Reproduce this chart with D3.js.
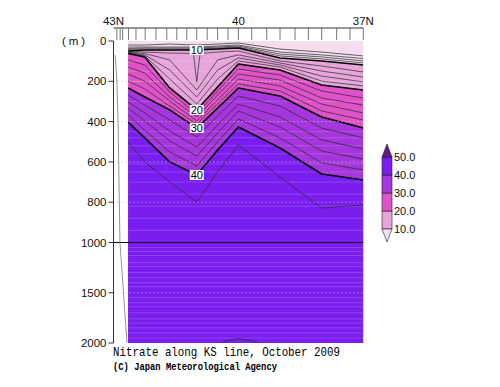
<!DOCTYPE html>
<html>
<head>
<meta charset="utf-8">
<script src="https://cdn.jsdelivr.net/npm/d3@7"></script>
<style>
  html, body { margin: 0; padding: 0; background: #fff; }
  svg { display: block; }
</style>
</head>
<body>
<svg id="chart" width="500" height="387"></svg>
<script>
// Nitrate section along the KS line (Oct 2009), redrawn as isolines.
// Each isoNN array = depth (m) of the NN umol/kg contour at each sectionLat.

const sectionLat = [42.65, 42.25, 41.65, 41.0, 40.5, 40.0, 39.0, 38.0, 37.0];

const iso02 = [20, 20, 15, 20, 15, 10, 40, 55, 74];
const iso04 = [30, 30, 30, 30, 25, 20, 55, 69, 87];
const iso06 = [37, 35, 35, 35, 30, 25, 65, 79, 99];
const iso08 = [42, 40, 40, 40, 35, 30, 74, 89, 109];
const iso10 = [50, 45, 45, 45, 40, 35, 84, 99, 119];
const iso12 = [52, 55, 60, 203, 55, 50, 99, 124, 154];
const iso14 = [55, 62, 94, 243, 94, 69, 109, 149, 179];
const iso16 = [57, 69, 144, 278, 144, 84, 119, 174, 203];
const iso18 = [60, 74, 189, 313, 189, 99, 129, 199, 223];
const iso20 = [62, 79, 233, 342, 228, 114, 144, 218, 243];
const iso22 = [94, 119, 253, 362, 248, 139, 169, 248, 283];
const iso24 = [129, 159, 278, 377, 268, 164, 194, 283, 318];
const iso26 = [164, 199, 298, 397, 293, 189, 223, 313, 357];
const iso28 = [199, 238, 323, 412, 313, 213, 248, 347, 392];
const iso30 = [233, 278, 342, 432, 333, 233, 273, 377, 432];
const iso32 = [268, 318, 392, 476, 372, 273, 323, 432, 481];
const iso34 = [303, 357, 447, 526, 417, 313, 377, 491, 536];
const iso36 = [333, 397, 496, 571, 457, 347, 427, 546, 586];
const iso38 = [367, 442, 551, 620, 501, 387, 481, 605, 640];
const iso40 = [402, 481, 600, 665, 541, 427, 531, 660, 690];
const iso42 = [501, 600, 700, 799, 650, 516, 675, 829, 814];

// narrow dip of the 12 contour at 41N, and the small 44 bump near the bottom
const spike12 = [[41.08, 62], [40.92, 62]];
const bump44 = [[40.6, 2040], [40.3, 1980], [40.0, 1955], [39.6, 1985], [39.3, 2040]];

// bottom topography near the coast
const bottomLine = [[42.96, 70], [42.92, 190], [42.89, 400], [42.845, 1000], [42.675, 2000]];

const contourLevels = [2, 4, 6, 8, 10, 12, 14, 16, 18, 20, 22, 24, 26, 28, 30, 32, 34, 36, 38, 40, 42];
const contourDepths = [iso02, iso04, iso06, iso08, iso10, iso12, iso14, iso16, iso18, iso20,
  iso22, iso24, iso26, iso28, iso30, iso32, iso34, iso36, iso38, iso40, iso42];

const shadeLevels = [10, 20, 30, 40, 50];
const shadeColors = ["#f3ddef", "#e8a5dc", "#e052c9", "#a535dd", "#7a1ef0", "#64198f"];
const colorbarLabels = ["10.0", "20.0", "30.0", "40.0", "50.0"];

const depthTicks = [0, 200, 400, 600, 800, 1000, 1500, 2000];
const gridDepths = [200, 400, 600, 800, 1500];
const latLabels = [[43, "43N"], [40, "40"], [37, "37N"]];
const stationTickLat = [42.92, 42.84, 42.78, 42.64, 42.46, 42.24, 41.98, 41.72, 41.48, 41.24,
  41.0, 40.75, 40.5, 40.25, 40.0, 39.68, 39.32, 39.0, 38.64, 38.32, 38.0, 37.64, 37.32, 37.0];
const stripeDepths = [60, 100, 150, 200, 300, 450, 480, 520, 560, 610, 650, 700, 760, 820, 880, 940,
  1050, 1090, 1130, 1200, 1240, 1300, 1350, 1400, 1440, 1550, 1600, 1640, 1700, 1760, 1800, 1850, 1900, 1950];

// ---- scales ----
const x = d3.scaleLinear().domain([43, 37]).range([113.5, 363.3]);
const y = d3.scaleLinear().domain([0, 1000, 2000]).range([41, 242.5, 343]);
const dataX0 = x(sectionLat[0]);
const dataX1 = x(sectionLat[sectionLat.length - 1]);

const svg = d3.select("#chart");
const FONT = "'Liberation Sans', Arial, Helvetica, sans-serif";

svg.append("defs").append("clipPath").attr("id", "plot-clip")
  .append("rect")
    .attr("x", dataX0).attr("y", y(0))
    .attr("width", dataX1 - dataX0).attr("height", y(2000) - y(0));

const plot = svg.append("g").attr("clip-path", "url(#plot-clip)");

function isoPoints(i) {
  let pts = sectionLat.map((lat, j) => [lat, contourDepths[i][j]]);
  if (contourLevels[i] === 12) pts = pts.concat(spike12);
  return pts.sort((a, b) => b[0] - a[0]);
}

// ---- shading ----
plot.append("rect")
  .attr("x", dataX0).attr("y", y(0))
  .attr("width", dataX1 - dataX0).attr("height", y(2000) - y(0))
  .attr("fill", shadeColors[0]);

const area = d3.area().x(d => x(d[0])).y0(y(2000)).y1(d => y(d[1]));
shadeLevels.slice(0, 4).forEach((lev, k) => {
  const i = contourLevels.indexOf(lev);
  plot.append("path")
    .attr("d", area(isoPoints(i)))
    .attr("fill", shadeColors[k + 1]);
});

// faint horizontal banding from the gridded data
plot.selectAll("line.stripe")
  .data(stripeDepths)
  .join("line")
    .attr("class", "stripe")
    .attr("x1", dataX0).attr("x2", dataX1)
    .attr("y1", d => y(d)).attr("y2", d => y(d))
    .attr("stroke", "#fff").attr("stroke-opacity", 0.16).attr("stroke-width", 1);

// dotted grid
svg.selectAll("line.grid")
  .data(gridDepths)
  .join("line")
    .attr("class", "grid")
    .attr("x1", x(43)).attr("x2", dataX1)
    .attr("y1", d => y(d)).attr("y2", d => y(d))
    .attr("stroke", "#c8c8c8").attr("stroke-width", 1)
    .attr("stroke-dasharray", "1,3");

// ---- contour lines ----
const line = d3.line().x(d => x(d[0])).y(d => y(d[1]));
contourLevels.forEach((lev, i) => {
  const bold = lev % 10 === 0;
  plot.append("path")
    .attr("d", line(isoPoints(i)))
    .attr("fill", "none")
    .attr("stroke", bold ? "#000" : "#2a2a2a")
    .attr("stroke-width", bold ? 1.6 : 0.7)
    .attr("stroke-linejoin", "round");
});
plot.append("path")
  .attr("d", line(bump44))
  .attr("fill", "none").attr("stroke", "#2a2a2a").attr("stroke-width", 0.7);

// contour labels at 41N
const labelLat = 41.0;
[10, 20, 30, 40].forEach(lev => {
  const i = contourLevels.indexOf(lev);
  const j = sectionLat.indexOf(labelLat);
  const cx = x(labelLat), cy = y(contourDepths[i][j]);
  const g = svg.append("g").attr("transform", `translate(${cx},${cy})`);
  g.append("rect").attr("x", -7).attr("y", -5).attr("width", 14).attr("height", 10).attr("fill", "#fff");
  g.append("text")
    .attr("text-anchor", "middle").attr("dy", "0.36em")
    .style("font-family", FONT).style("font-size", "11px")
    .attr("fill", "#000").text(lev);
});

// 1000 m reference line
svg.append("line")
  .attr("x1", x(43)).attr("x2", dataX1)
  .attr("y1", y(1000)).attr("y2", y(1000))
  .attr("stroke", "#111").attr("stroke-width", 1.2);

// bottom topography
svg.append("path")
  .attr("d", line(bottomLine))
  .attr("fill", "none").attr("stroke", "#777").attr("stroke-width", 0.8);

// ---- axes ----
const axisColor = "#333";
svg.append("line")
  .attr("x1", x(43)).attr("x2", x(43)).attr("y1", y(0)).attr("y2", y(2000))
  .attr("stroke", axisColor).attr("stroke-width", 1);

const yt = svg.selectAll("g.ytick").data(depthTicks).join("g")
  .attr("class", "ytick")
  .attr("transform", d => `translate(${x(43)},${y(d)})`);
yt.append("line").attr("x1", -5).attr("x2", 0).attr("stroke", axisColor);
yt.append("text")
  .attr("x", -7).attr("dy", "0.36em").attr("text-anchor", "end")
  .style("font-family", FONT).style("font-size", "11.5px").attr("fill", "#111")
  .text(d => d);

svg.append("text")
  .attr("x", 62).attr("y", y(0)).attr("dy", "0.36em")
  .attr("textLength", 23).attr("lengthAdjust", "spacing")
  .style("font-family", FONT).style("font-size", "11.5px").attr("fill", "#111")
  .text("(m)");

const topY = 28;
svg.append("line")
  .attr("x1", x(43)).attr("x2", x(37)).attr("y1", topY).attr("y2", topY)
  .attr("stroke", axisColor);
svg.selectAll("line.stn")
  .data(stationTickLat)
  .join("line")
    .attr("class", "stn")
    .attr("x1", d => x(d)).attr("x2", d => x(d))
    .attr("y1", topY).attr("y2", topY + 12)
    .attr("stroke", "#555").attr("stroke-width", 0.8);
svg.selectAll("text.lat")
  .data(latLabels)
  .join("text")
    .attr("class", "lat")
    .attr("x", d => x(d[0])).attr("y", topY - 3)
    .attr("text-anchor", "middle")
    .style("font-family", FONT).style("font-size", "11.5px").attr("fill", "#111")
    .text(d => d[1]);

// ---- colorbar ----
const cb = d3.scaleLinear().domain([10, 50]).range([229, 157]);
const cbX = 382, cbW = 10, cbTri = 13;
const cbg = svg.append("g");
for (let k = 0; k < shadeLevels.length - 1; k++) {
  cbg.append("rect")
    .attr("x", cbX).attr("y", cb(shadeLevels[k + 1]))
    .attr("width", cbW).attr("height", cb(shadeLevels[k]) - cb(shadeLevels[k + 1]))
    .attr("fill", shadeColors[k + 1]).attr("stroke", "#222").attr("stroke-width", 0.6);
}
cbg.append("path")
  .attr("d", `M${cbX},${cb(50)}L${cbX + cbW / 2},${cb(50) - cbTri}L${cbX + cbW},${cb(50)}Z`)
  .attr("fill", shadeColors[5]).attr("stroke", "#222").attr("stroke-width", 0.6);
cbg.append("path")
  .attr("d", `M${cbX},${cb(10)}L${cbX + cbW / 2},${cb(10) + cbTri}L${cbX + cbW},${cb(10)}Z`)
  .attr("fill", shadeColors[0]).attr("stroke", "#222").attr("stroke-width", 0.6);
cbg.selectAll("text")
  .data(shadeLevels)
  .join("text")
    .attr("x", cbX + cbW + 2).attr("y", d => cb(d)).attr("dy", "0.36em")
    .style("font-family", FONT).style("font-size", "11px").attr("fill", "#111")
    .text((d, i) => colorbarLabels[i]);

// ---- titles ----
svg.append("text")
  .attr("x", 113).attr("y", 356)
  .attr("textLength", 227).attr("lengthAdjust", "spacingAndGlyphs")
  .style("font-family", "'Liberation Mono', 'Courier New', monospace").style("font-size", "13px")
  .attr("fill", "#000")
  .text("Nitrate along KS line, October 2009");
svg.append("text")
  .attr("x", 113).attr("y", 370)
  .attr("textLength", 164).attr("lengthAdjust", "spacingAndGlyphs")
  .style("font-family", "'Liberation Mono', 'Courier New', monospace").style("font-size", "10.5px")
  .style("font-weight", "bold").attr("fill", "#000")
  .text("(C) Japan Meteorological Agency");
</script>
</body>
</html>
